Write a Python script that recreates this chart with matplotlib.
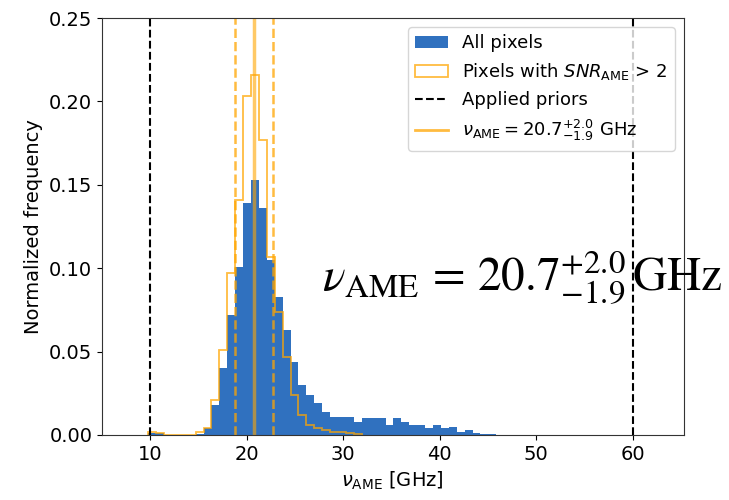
import numpy as np
from matplotlib import pyplot as plt
from matplotlib.patches import Patch
from matplotlib.lines import Line2D

# 直方图的分箱 (GHz)
bin_start = 9.78
bin_width = 0.82

# 所有像素的归一化频数
all_pixels = [0.001, 0.001, 0, 0, 0, 0, 0.0005, 0.004, 0.018, 0.040,
              0.072, 0.101, 0.139, 0.153, 0.136, 0.105, 0.083, 0.063, 0.044, 0.030,
              0.024, 0.019, 0.014, 0.011, 0.011, 0.011, 0.008, 0.010, 0.010, 0.010,
              0.006, 0.010, 0.008, 0.006, 0.006, 0.004, 0.006, 0.004, 0.005, 0.002,
              0.003, 0.001, 0.0005, 0.0003]
# SNR > 2 的像素
snr_pixels = [0.002, 0.001, 0, 0, 0, 0, 0.002, 0.004, 0.021, 0.051,
              0.097, 0.141, 0.203, 0.216, 0.177, 0.107, 0.074, 0.047, 0.024, 0.012,
              0.006, 0.004, 0.003, 0.002, 0.002, 0.001, 0.0005]

priors = [10, 60]
nu_med = 20.7
nu_lo = 1.9
nu_hi = 2.0

blue = '#3071bf'
orange = 'orange'

edges = bin_start + bin_width * np.arange(len(all_pixels) + 1)
centers = edges[:-1] + bin_width / 2

fig = plt.figure(figsize=(7.29, 5.0), dpi=100)
ax = fig.add_axes([0.140, 0.13, 0.798, 0.834])

ax.hist(centers, bins=edges, weights=all_pixels, color=blue)
n = len(snr_pixels)
ax.hist(centers[:n], bins=edges[:n + 1], weights=snr_pixels, histtype='step',
        color=orange, alpha=0.75, lw=1.3)

for p in priors:
    ax.axvline(p, color='black', ls='--', lw=1.5)
ax.axvline(nu_med, color=orange, lw=2.5, alpha=0.6)
ax.axvline(nu_med - nu_lo, color=orange, ls='--', lw=1.8, alpha=0.75)
ax.axvline(nu_med + nu_hi, color=orange, ls='--', lw=1.8, alpha=0.75)

ax.set_xlim(5, 65.3)
ax.set_ylim(0, 0.25)
ax.set_xticks([10, 20, 30, 40, 50, 60])
ax.set_yticks([0, 0.05, 0.10, 0.15, 0.20, 0.25])
ax.tick_params(labelsize=14)
for s in ax.spines.values():
    s.set_color('#333333')
ax.set_xlabel(r'$\nu_{\rm AME}$ [GHz]', fontsize=14)
ax.set_ylabel('Normalized frequency', fontsize=14)

# 图例
handles = [Patch(facecolor=blue, label='All pixels'),
           Patch(facecolor='white', edgecolor=orange, alpha=0.75, lw=1.3,
                 label=r'Pixels with $SNR_{\rm AME}$ > 2'),
           Line2D([], [], color='black', ls='--', lw=1.5, label='Applied priors'),
           Line2D([], [], color=orange, lw=2, alpha=0.75,
                  label=r'$\nu_{\rm AME} = 20.7^{+2.0}_{-1.9}$ GHz')]
ax.legend(handles=handles, loc='upper right', fontsize=13, handlelength=1.8)

# 大号标注
fig.text(0.442, 0.416, r'$\nu_{\rm AME}\,=\,20.7^{+2.0}_{-1.9}\,{\rm GHz}$',
         fontsize=34, math_fontfamily='stix', va='baseline')

fig.savefig('out.png', dpi=100)
